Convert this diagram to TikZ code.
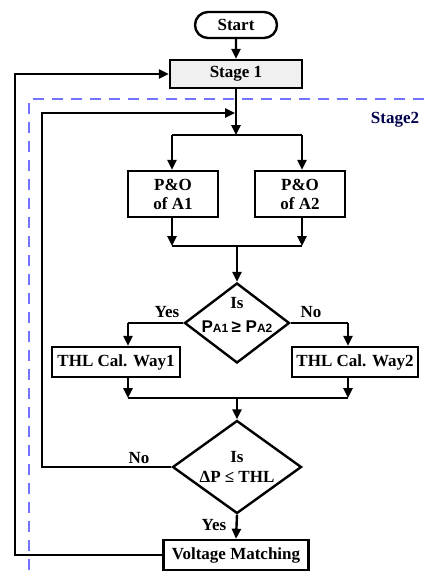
\documentclass[tikz,border=0pt]{standalone}
\usepackage{fontspec}
\setmainfont{Liberation Serif}
\newfontfamily\sansf{Liberation Sans}
\usetikzlibrary{arrows.meta,shapes.geometric,shapes.misc,calc}
\begin{document}
\begin{tikzpicture}[x=1pt,y=-1pt,
  font=\fontsize{17}{19}\selectfont\bfseries,
  line width=2.4pt,
  arr/.style={-{Triangle[length=10pt,width=9pt]}},
  boxx/.style={draw, fill=white, inner sep=0pt, align=center},
  dia/.style={draw, fill=white, diamond, inner sep=0pt},
  lbl/.style={inner sep=0pt},
  stagedash/.style={draw=blue!55!white, line width=1.2pt, dash pattern=on 11pt off 8pt}
]
\useasboundingbox (0,0) rectangle (424,576);
\fill[white] (0,0) rectangle (424,576);
% stage 2 dashed frame
\coordinate (fr1) at (424,99);
\coordinate (fr2) at (29,99);
\coordinate (fr3) at (29,576);
\draw[stagedash] (fr1) -- (fr2) -- (fr3);
\node[lbl, text=blue!30!black] (st2) at (395,120) {Stage2};

% nodes
\node[draw, rounded rectangle, minimum width=82pt, minimum height=26pt, inner sep=0pt] (start) at (236,25) {Start};
\node[boxx, fill=gray!12, minimum width=132pt, minimum height=28pt] (s1) at (236,74) {Stage 1};
\node[boxx, minimum width=90pt, minimum height=46pt] (po1) at (173,194) {P\&O\\of A1};
\node[boxx, minimum width=90pt, minimum height=46pt] (po2) at (300,194) {P\&O\\of A2};
\node[dia, minimum width=105pt, minimum height=80pt] (d1) at (237,323) {};
\node[lbl, align=center] (d1t) at (237,315) {Is\\[5pt]{\sansf P\fontsize{12}{12}\selectfont A1 \fontsize{17}{19}\selectfont≥ P\fontsize{12}{12}\selectfont A2}};
\node[boxx, minimum width=128pt, minimum height=30pt] (t1) at (116,362) {THL Cal. Way1};
\node[boxx, minimum width=126pt, minimum height=30pt] (t2) at (355,362) {THL Cal. Way2};
\node[dia, minimum width=129pt, minimum height=93pt] (d2) at (237,467) {};
\node[lbl, align=center] (d2t) at (237,467) {Is\\[1pt]ΔP ≤ THL};
\node[boxx, minimum width=145pt, minimum height=30pt] (vm) at (236,555) {Voltage Matching};

% coordinates
\coordinate (split) at (236,135);
\coordinate (sl) at (172,135);
\coordinate (sr) at (302,135);
\coordinate (ml) at (172,246);
\coordinate (mr) at (302,246);
\coordinate (mc) at (237,246);
\coordinate (y1) at (128,323);
\coordinate (n1) at (348,323);
\coordinate (bl) at (128,398);
\coordinate (br) at (348,398);
\coordinate (bc) at (237,398);
\coordinate (lp1) at (42,467);
\coordinate (lp2) at (42,113);
\coordinate (lpe) at (235,113);
\coordinate (op1) at (15,555);
\coordinate (op2) at (15,74);

% connectors
\draw[arr] (start) -- (s1);
\draw[arr] (s1) -- (split);
\draw (sl) -- (sr);
\draw[arr] (sl) -- (sl |- po1.north);
\draw[arr] (sr) -- (sr |- po2.north);
\draw[arr] (ml |- po1.south) -- (ml);
\draw[arr] (mr |- po2.south) -- (mr);
\draw (ml) -- (mr);
\draw[arr] (mc) -- (d1.north);
\draw (d1.west) -- (y1);
\draw[arr] (y1) -- (y1 |- t1.north);
\draw (d1.east) -- (n1);
\draw[arr] (n1) -- (n1 |- t2.north);
\draw[arr] (bl |- t1.south) -- (bl);
\draw[arr] (br |- t2.south) -- (br);
\draw (bl) -- (br);
\draw[arr] (bc) -- (d2.north);
\draw[arr] (d2.west) -- (lp1) -- (lp2) -- (lpe);
\draw[arr] (d2.south) -- (vm.north);
\draw[arr] (vm.west) -- (op1) -- (op2) -- (s1.west);

% labels
\node[lbl] (yes1) at (167,312) {Yes};
\node[lbl] (no1) at (311,312) {No};
\node[lbl] (no2) at (139,458) {No};
\node[lbl] (yes2) at (214,525) {Yes};
\end{tikzpicture}
\end{document}
